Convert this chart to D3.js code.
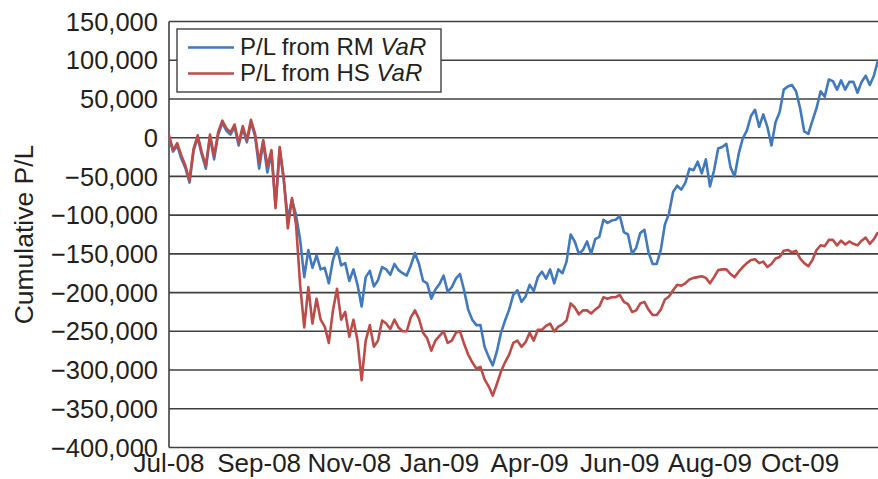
<!DOCTYPE html>
<html>
<head>
<meta charset="utf-8">
<script src="https://cdn.jsdelivr.net/npm/d3@7"></script>
<style>
  html, body { margin: 0; padding: 0; background: #fff; }
  svg { display: block; }
  text { font-family: "Liberation Sans", Arial, Helvetica, sans-serif; fill: #231f20; }
</style>
</head>
<body>
<svg id="chart" width="878" height="479"></svg>
<script>
// ---- data ----
const xLabels = ["Jul-08", "Sep-08", "Nov-08", "Jan-09", "Apr-09", "Jun-09", "Aug-09", "Oct-09"];
const pointsPerLabel = 22;
const yTicks = [150000, 100000, 50000, 0, -50000, -100000, -150000, -200000, -250000, -300000, -350000, -400000];
const seriesNames = ["P/L from RM ", "P/L from HS "];

const plRM = [
  0, -18000, -10000, -27000, -39000, -58000, -17000, 0, -22000, -40000,
  1000, -28000, 4000, 19000, 9000, 4000, 14000, -10000, 12000, -6000,
  20000, 2000, -40000, -6000, -45000, -20000, -88000, -15000, -55000, -105000,
  -80000, -100000, -132000, -180000, -145000, -168000, -152000, -170000, -168000, -188000,
  -158000, -142000, -165000, -162000, -185000, -170000, -190000, -218000, -180000, -172000,
  -192000, -184000, -167000, -170000, -177000, -163000, -171000, -175000, -178000, -165000,
  -149000, -163000, -185000, -188000, -208000, -196000, -189000, -178000, -199000, -193000,
  -182000, -176000, -197000, -222000, -235000, -242000, -242000, -270000, -283000, -294000,
  -276000, -252000, -236000, -222000, -203000, -197000, -212000, -205000, -190000, -198000,
  -180000, -173000, -182000, -170000, -188000, -170000, -175000, -160000, -125000, -134000,
  -150000, -145000, -134000, -150000, -131000, -128000, -106000, -110000, -107000, -106000,
  -101000, -122000, -125000, -150000, -142000, -123000, -119000, -148000, -163000, -163000,
  -145000, -112000, -98000, -70000, -62000, -67000, -58000, -40000, -42000, -31000,
  -46000, -28000, -63000, -42000, -14000, -12000, -8000, -38000, -50000, -21000,
  -1000, 9000, 28000, 36000, 14000, 30000, 14000, -10000, 20000, 33000,
  62000, 66000, 68000, 60000, 38000, 8000, 5000, 22000, 38000, 60000,
  53000, 75000, 73000, 62000, 74000, 62000, 72000, 72000, 58000, 72000,
  80000, 68000, 80000, 100000
];

const plHS = [
  3000, -16000, -7000, -23000, -36000, -55000, -14000, 3000, -19000, -36000,
  4000, -24000, 7000, 22000, 12000, 7000, 17000, -7000, 15000, -3000,
  23000, 5000, -32000, -3000, -37000, -16000, -91000, -12000, -52000, -117000,
  -78000, -112000, -190000, -245000, -193000, -240000, -208000, -235000, -244000, -265000,
  -223000, -195000, -235000, -225000, -257000, -235000, -262000, -313000, -262000, -242000,
  -270000, -262000, -236000, -240000, -247000, -235000, -245000, -250000, -250000, -232000,
  -223000, -234000, -252000, -259000, -275000, -262000, -256000, -250000, -265000, -262000,
  -252000, -250000, -266000, -280000, -290000, -298000, -296000, -312000, -321000, -333000,
  -318000, -302000, -290000, -280000, -265000, -262000, -270000, -264000, -252000, -262000,
  -248000, -248000, -243000, -240000, -250000, -244000, -241000, -236000, -214000, -219000,
  -228000, -223000, -223000, -227000, -222000, -218000, -206000, -208000, -206000, -206000,
  -203000, -212000, -215000, -225000, -223000, -214000, -212000, -222000, -229000, -229000,
  -222000, -209000, -205000, -197000, -190000, -191000, -188000, -183000, -181000, -180000,
  -179000, -181000, -188000, -180000, -171000, -170000, -170000, -176000, -180000, -173000,
  -167000, -162000, -158000, -157000, -162000, -160000, -167000, -163000, -156000, -154000,
  -146000, -145000, -148000, -146000, -156000, -162000, -166000, -158000, -145000, -139000,
  -140000, -132000, -132000, -139000, -133000, -138000, -134000, -137000, -139000, -133000,
  -129000, -137000, -131000, -122000
];

// ---- layout ----
const svg = d3.select("#chart");
const plotLeft = 169, plotRight = 878, plotTop = 21.5, plotBottom = 447.5;
const gridColor = "#404040";
const colors = ["#4179bd", "#bd4b48"];

const x = d3.scaleLinear().domain([0, plRM.length - 1]).range([plotLeft, plotRight]);
const y = d3.scaleLinear().domain([-400000, 150000]).range([plotBottom, plotTop]);

// gridlines
svg.append("g").selectAll("line").data(yTicks).join("line")
  .attr("x1", plotLeft).attr("x2", plotRight)
  .attr("y1", d => y(d)).attr("y2", d => y(d))
  .attr("stroke", gridColor).attr("stroke-width", 1.6);

// y axis line
svg.append("line").attr("x1", plotLeft).attr("x2", plotLeft).attr("y1", plotTop).attr("y2", plotBottom)
  .attr("stroke", gridColor).attr("stroke-width", 1.6);

// y tick labels
const fmt = d => (d < 0 ? "\u2212" : "") + d3.format(",")(Math.abs(d));
svg.append("g").selectAll("text").data(yTicks).join("text")
  .attr("x", 158).attr("y", d => y(d)).attr("dy", "0.36em")
  .attr("text-anchor", "end").style("font-size", "25.5px")
  .text(fmt);

// x labels
svg.append("g").selectAll("text").data(xLabels).join("text")
  .attr("x", (d, i) => x(i * pointsPerLabel)).attr("y", 471.5)
  .attr("text-anchor", "middle").style("font-size", "26px")
  .text(d => d);

// y title
svg.append("text")
  .attr("transform", `translate(32.5, ${(plotTop + plotBottom) / 2}) rotate(-90)`)
  .attr("text-anchor", "middle").style("font-size", "26.5px")
  .text("Cumulative P/L");

// lines
const line = d3.line().x((d, i) => x(i)).y(d => y(d)).curve(d3.curveLinear);
[plRM, plHS].forEach((s, k) => {
  svg.append("path").datum(s)
    .attr("fill", "none").attr("stroke", colors[k])
    .attr("stroke-width", 2.6).attr("stroke-linejoin", "round")
    .attr("d", line);
});

// legend
const lg = svg.append("g");
lg.append("rect").attr("x", 177).attr("y", 29).attr("width", 264).attr("height", 63)
  .attr("fill", "#fff").attr("stroke", gridColor).attr("stroke-width", 1.4);
const rowY = [47.5, 73.5];
seriesNames.forEach((name, k) => {
  lg.append("line").attr("x1", 188).attr("x2", 234).attr("y1", rowY[k]).attr("y2", rowY[k])
    .attr("stroke", colors[k]).attr("stroke-width", 2.6);
  const t = lg.append("text").attr("x", 240).attr("y", rowY[k] + 7.5).style("font-size", "24px");
  t.append("tspan").text(name);
  t.append("tspan").style("font-style", "italic").text("VaR");
});
</script>
</body>
</html>
